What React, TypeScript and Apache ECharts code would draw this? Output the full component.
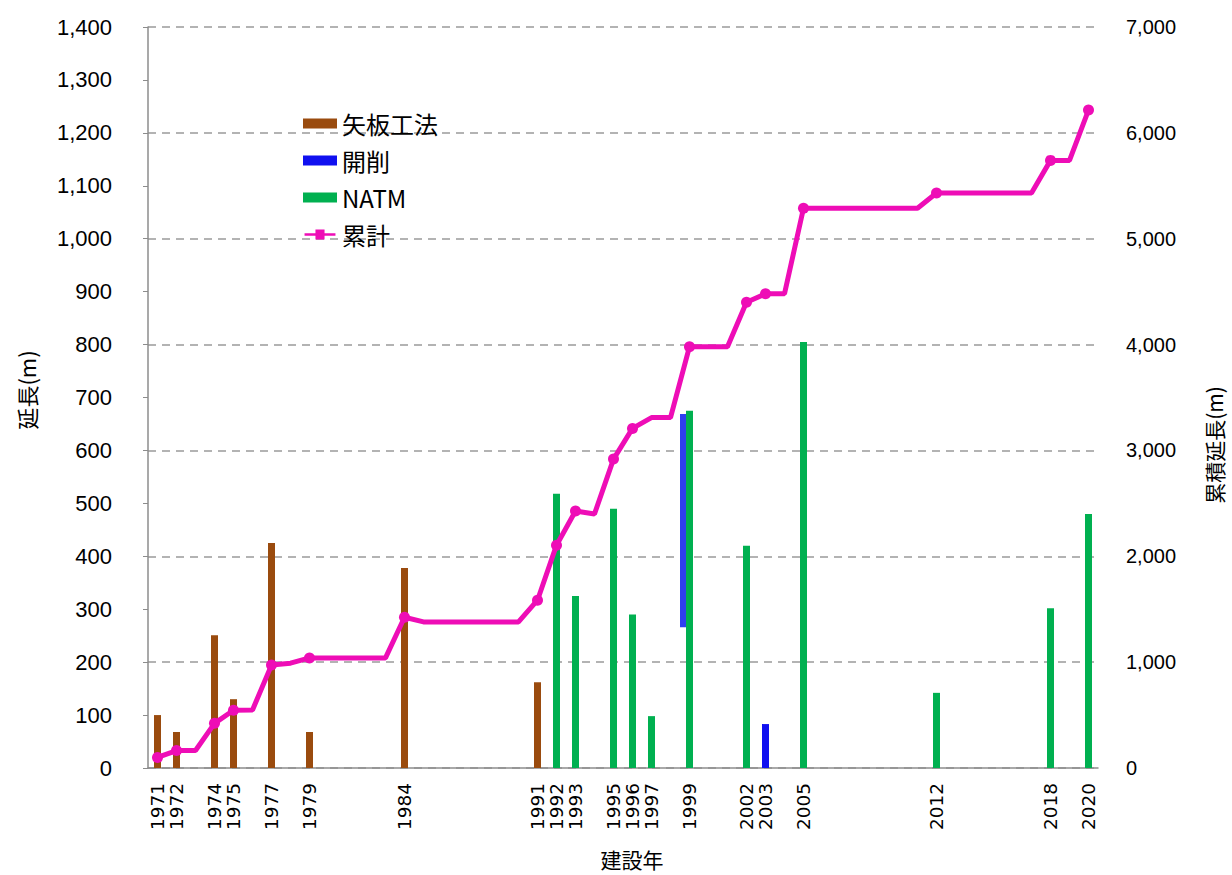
import { useEffect, useRef } from "react";
import * as echarts from "echarts";

// Construction years on the category axis
const years = [
  "1971", "1972", "1973", "1974", "1975", "1976", "1977", "1978", "1979", "1980",
  "1981", "1982", "1983", "1984", "1985", "1986", "1987", "1988", "1989", "1990",
  "1991", "1992", "1993", "1994", "1995", "1996", "1997", "1998", "1999", "2000",
  "2001", "2002", "2003", "2004", "2005", "2006", "2007", "2008", "2009", "2010",
  "2011", "2012", "2013", "2014", "2015", "2016", "2017", "2018", "2019", "2020",
];

// Years whose tick label is printed
const labelYears = [
  "1971", "1972", "1974", "1975", "1977", "1979", "1984", "1991", "1992", "1993",
  "1995", "1996", "1997", "1999", "2002", "2003", "2005", "2012", "2018", "2020",
];

// Years where the cumulative line carries a marker
const markerYears = [
  "1971", "1972", "1974", "1975", "1977", "1979", "1984", "1991", "1992", "1993",
  "1995", "1996", "1999", "2002", "2003", "2005", "2012", "2018", "2020",
];

// 矢板工法 length per year (m)
const yaitaKouhou: [string, number][] = [
  ["1971", 100], ["1972", 68], ["1974", 251], ["1975", 130],
  ["1977", 425], ["1979", 68], ["1984", 378], ["1991", 162],
];

// 開削 length per year (m)
const kaisaku: [string, number][] = [["2003", 83]];
// 開削 1999 bar: lower end and height (m)
const kaisakuBase: [string, number][] = [["1999", 266]];
const kaisakuRise: [string, number][] = [["1999", 403]];

// NATM length per year (m)
const natm: [string, number][] = [
  ["1992", 518], ["1993", 325], ["1995", 490], ["1996", 290], ["1997", 98],
  ["1999", 675], ["2002", 420], ["2005", 805], ["2012", 142], ["2018", 302],
  ["2020", 480],
];

// 累計 (cumulative length, m), one value per year
const cumulative = [
  100, 165, 165, 422, 545, 548, 972, 990, 1040, 1040,
  1040, 1040, 1040, 1424, 1380, 1380, 1380, 1380, 1380, 1380,
  1585, 2105, 2428, 2400, 2918, 3208, 3310, 3310, 3980, 3980,
  3980, 4400, 4480, 4480, 5288, 5288, 5288, 5288, 5288, 5288,
  5288, 5432, 5432, 5432, 5432, 5432, 5432, 5740, 5740, 6215,
];

const leftTicks = { min: 0, max: 1400, interval: 100 };
const rightTicks = { min: 0, max: 7000, interval: 1000 };

const JP = '"Noto Sans CJK JP", "Noto Sans", sans-serif';
const NUM = '"Liberation Sans", Arial, sans-serif';

const BROWN = "#9A4B0E";
const BLUE = "#1010F0";
const GREEN = "#00B050";
const MAGENTA = "#EE0DB6";

const fmt = (v: number) => v.toLocaleString("en-US");

export default function App() {
  const ref = useRef<HTMLDivElement>(null);

  useEffect(() => {
    if (!ref.current) return;
    const chart = echarts.init(ref.current, undefined, { renderer: "svg" });

    const option: echarts.EChartsOption = {
      animation: false,
      backgroundColor: "#ffffff",
      legend: {
        orient: "vertical",
        left: 298,
        top: 106,
        itemWidth: 34,
        itemHeight: 10,
        itemGap: 12,
        selectedMode: false,
        textStyle: { fontFamily: JP, fontSize: 24, lineHeight: 25, color: "#000" },
        data: [
          { name: "矢板工法", icon: "rect" },
          { name: "開削", icon: "rect" },
          { name: "NATM", icon: "rect" },
          { name: "累計", icon: "path://M0,4L34,4L34,7L0,7Z M12,0L22,0L22,11L12,11Z" },
        ],
      },
      grid: [
        { left: 148, right: 134, top: 27, bottom: 107, containLabel: false },
        { left: 141.5, right: 140.5, top: 27, bottom: 107, containLabel: false },
      ],
      xAxis: [
        {
          type: "category",
          gridIndex: 0,
          data: years,
          boundaryGap: true,
          axisLine: { show: true, lineStyle: { color: "#8c8c8c", width: 1.5 } },
          axisTick: { show: false },
          splitLine: { show: false },
          axisLabel: {
            rotate: 90,
            interval: (_i: number, v: string) => labelYears.includes(v),
            margin: 15,
            fontFamily: '"DejaVu Sans", sans-serif',
            fontSize: 18.5,
            color: "#000",
          },
        },
        {
          type: "category",
          gridIndex: 1,
          data: years,
          boundaryGap: true,
          show: false,
        },
      ],
      yAxis: [
        {
          type: "value",
          gridIndex: 0,
          ...leftTicks,
          position: "left",
          axisLine: { show: true, lineStyle: { color: "#8c8c8c", width: 1.5 } },
          axisTick: { show: true, length: 5, lineStyle: { color: "#8c8c8c" } },
          splitLine: { show: false },
          axisLabel: {
            margin: 36,
            fontFamily: NUM,
            fontSize: 22,
            color: "#000",
            formatter: (v: number) => fmt(v),
          },
        },
        {
          type: "value",
          gridIndex: 0,
          ...rightTicks,
          position: "right",
          axisLine: { show: false },
          axisTick: { show: false },
          splitLine: {
            show: true,
            lineStyle: { color: "#9a9a9a", type: [8, 6], width: 1.5 },
          },
          axisLabel: {
            margin: 28,
            fontFamily: NUM,
            fontSize: 20,
            color: "#000",
            formatter: (v: number) => fmt(v),
          },
        },
        {
          type: "value",
          gridIndex: 1,
          ...leftTicks,
          show: false,
          splitLine: { show: false },
        },
      ],
      series: [
        {
          name: "矢板工法",
          type: "bar",
          xAxisIndex: 0,
          yAxisIndex: 0,
          barWidth: 7,
          barGap: "-100%",
          itemStyle: { color: BROWN },
          data: yaitaKouhou,
        },
        {
          name: "開削",
          type: "bar",
          xAxisIndex: 0,
          yAxisIndex: 0,
          barWidth: 7,
          barGap: "-100%",
          itemStyle: { color: BLUE },
          data: kaisaku,
        },
        {
          name: "NATM",
          type: "bar",
          xAxisIndex: 0,
          yAxisIndex: 0,
          barWidth: 7,
          barGap: "-100%",
          itemStyle: { color: GREEN },
          data: natm,
        },
        {
          name: "base",
          type: "bar",
          xAxisIndex: 1,
          yAxisIndex: 2,
          stack: "kaisaku",
          barWidth: 6,
          silent: true,
          itemStyle: { color: "transparent" },
          data: kaisakuBase,
        },
        {
          name: "開削",
          type: "bar",
          xAxisIndex: 1,
          yAxisIndex: 2,
          stack: "kaisaku",
          barWidth: 6,
          itemStyle: { color: "#2F3FF0" },
          data: kaisakuRise,
        },
        {
          name: "累計",
          type: "line",
          xAxisIndex: 0,
          yAxisIndex: 1,
          z: 5,
          showAllSymbol: true,
          symbol: "circle",
          symbolSize: 11,
          lineStyle: { color: MAGENTA, width: 5 },
          itemStyle: { color: MAGENTA },
          data: cumulative.map((v, i) =>
            markerYears.includes(years[i])
              ? { value: v }
              : { value: v, symbol: "none" }
          ),
        },
      ],
      graphic: [
        {
          type: "text",
          x: 26,
          y: 390,
          rotation: Math.PI / 2,
          style: {
            text: "延長(m)",
            fontFamily: JP,
            fontSize: 22,
            fill: "#000",
            align: "center",
            verticalAlign: "middle",
          },
        },
        {
          type: "text",
          x: 1214,
          y: 445,
          rotation: Math.PI / 2,
          style: {
            text: "累積延長(m)",
            fontFamily: JP,
            fontSize: 21,
            fill: "#000",
            align: "center",
            verticalAlign: "middle",
          },
        },
        {
          type: "text",
          x: 632,
          y: 859,
          style: {
            text: "建設年",
            fontFamily: JP,
            fontSize: 21,
            fill: "#000",
            align: "center",
            verticalAlign: "middle",
          },
        },
      ],
    };

    chart.setOption(option);
    return () => chart.dispose();
  }, []);

  return (
    <div
      ref={ref}
      style={{ position: "fixed", left: 0, top: 0, width: 1232, height: 875 }}
    />
  );
}
